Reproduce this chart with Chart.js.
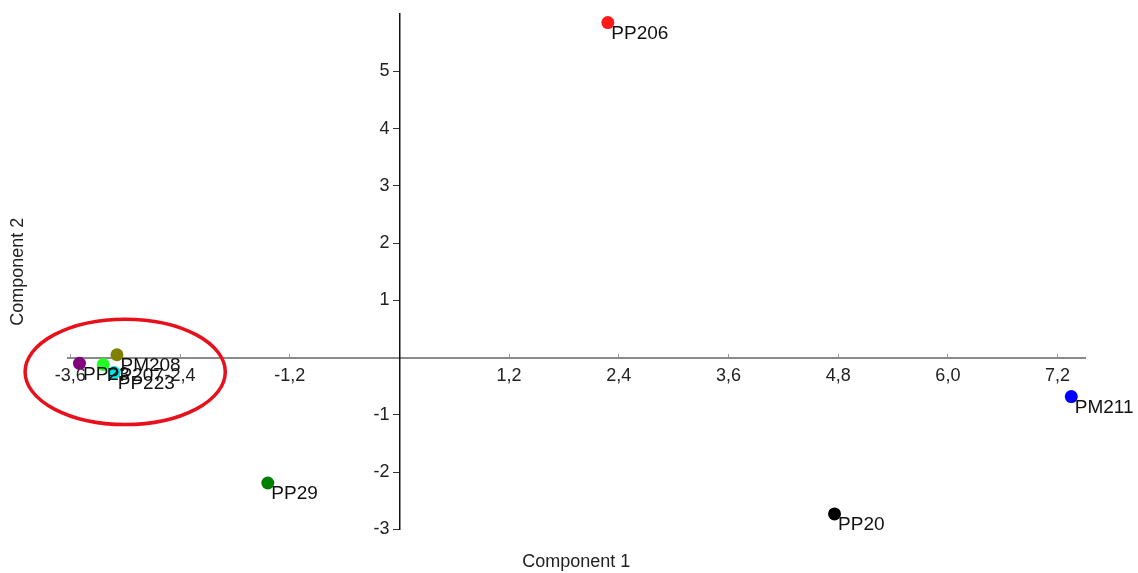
<!DOCTYPE html>
<html>
<head>
<meta charset="utf-8">
<script src="https://cdn.jsdelivr.net/npm/chart.js@4/dist/chart.umd.min.js"></script>
<style>
  html, body { margin: 0; padding: 0; background: #fff; }
  #wrap { width: 1138px; height: 573px; }
</style>
</head>
<body>
<div id="wrap"><canvas id="pca"></canvas></div>
<script>
// Sample scores on the first two components
const sampleNames = ['PP206', 'PM211', 'PP29', 'PP20', 'PP23', 'PP207', 'PP223', 'PM208'];
const comp1 = [2.28, 7.35, -1.44, 4.76, -3.50, -3.24, -3.12, -3.09];
const comp2 = [5.85, -0.68, -2.19, -2.73, -0.10, -0.12, -0.26, 0.05];
const pointColors = ['#ff1a1a', '#0000ff', '#008000', '#000000', '#800080', '#22ff22', '#00e5e5', '#808000'];

// Tick values
const xTicks = [-3.6, -2.4, -1.2, 1.2, 2.4, 3.6, 4.8, 6.0, 7.2];
const yTicks = [-3, -2, -1, 1, 2, 3, 4, 5];

// Highlighted group (data units): centre x, centre y, radius x, radius y
const highlight = { cx: -3.0, cy: -0.25, rx: 1.095, ry: 0.92 };

const FONT = '"Liberation Sans", Arial, sans-serif';
const NBSP = '\u00a0';

// ── Plugins ─────────────────────────────────────────────────────
const pointLabels = {
  id: 'pointLabels',
  afterDatasetsDraw(chart) {
    const ctx = chart.ctx;
    const meta = chart.getDatasetMeta(0);
    ctx.save();
    ctx.font = '19px ' + FONT;
    ctx.fillStyle = '#111';
    ctx.textBaseline = 'middle';
    ctx.textAlign = 'left';
    meta.data.forEach((pt, i) => {
      ctx.fillText(sampleNames[i], pt.x + 3.5, pt.y + 11);
    });
    ctx.restore();
  }
};

const highlightRing = {
  id: 'highlightRing',
  afterDraw(chart) {
    const { x, y } = chart.scales;
    const ctx = chart.ctx;
    const cx = x.getPixelForValue(highlight.cx);
    const cy = y.getPixelForValue(highlight.cy);
    const rx = Math.abs(x.getPixelForValue(highlight.cx + highlight.rx) - cx);
    const ry = Math.abs(y.getPixelForValue(highlight.cy + highlight.ry) - cy);
    ctx.save();
    ctx.strokeStyle = '#e8101a';
    ctx.lineWidth = 3.5;
    ctx.beginPath();
    ctx.ellipse(cx, cy, rx, ry, 0, 0, Math.PI * 2);
    ctx.stroke();
    ctx.restore();
  }
};

// ── Chart ───────────────────────────────────────────────────────
new Chart(document.getElementById('pca').getContext('2d'), {
  type: 'scatter',
  data: {
    datasets: [{
      data: comp1.map((v, i) => ({ x: v, y: comp2[i] })),
      pointBackgroundColor: pointColors,
      pointBorderWidth: 0,
      pointRadius: 6.5,
      pointHoverRadius: 6.5,
    }]
  },
  options: {
    responsive: true,
    maintainAspectRatio: false,
    animation: false,
    layout: { padding: { left: 0, right: 53, top: 14, bottom: 0 } },
    plugins: { legend: { display: false }, tooltip: { enabled: false } },
    scales: {
      x: {
        type: 'linear',
        position: { y: 0 },
        min: -3.63,
        max: 7.5,
        afterBuildTicks: s => { s.ticks = xTicks.map(v => ({ value: v })); },
        // negative length turns the tick marks below the crossing axis line
        grid: { drawOnChartArea: false, drawTicks: true, tickLength: -5, color: '#999' },
        border: { display: true, color: '#8a8a8a', width: 2 },
        ticks: { color: '#222', font: { family: FONT, size: 18 }, padding: 13, maxRotation: 0, autoSkip: false,
                 callback: v => v.toFixed(1).replace('.', ',') },
      },
      y: {
        type: 'linear',
        position: { x: 0 },
        min: -3,
        max: 6,
        afterBuildTicks: s => { s.ticks = yTicks.map(v => ({ value: v })); },
        grid: { drawOnChartArea: false, drawTicks: true, tickLength: 6, color: '#333' },
        border: { display: true, color: '#111', width: 1.5 },
        ticks: { color: '#222', font: { family: FONT, size: 18 }, padding: 3, autoSkip: false,
                 callback: v => String(v) + NBSP + NBSP },
      },
      xTitle: {
        type: 'linear',
        position: 'bottom',
        grid: { display: false, drawTicks: false },
        border: { display: false },
        ticks: { display: false },
        title: { display: true, text: 'Component 1', color: '#222', font: { family: FONT, size: 18 }, padding: { top: 22, bottom: 0 } },
      },
      yTitle: {
        type: 'linear',
        position: 'left',
        grid: { display: false, drawTicks: false },
        border: { display: false },
        ticks: { display: false },
        title: { display: true, text: 'Component 2', color: '#222', font: { family: FONT, size: 18 }, padding: { top: 7, bottom: 39 } },
      },
    },
  },
  plugins: [pointLabels, highlightRing],
});
</script>
</body>
</html>
